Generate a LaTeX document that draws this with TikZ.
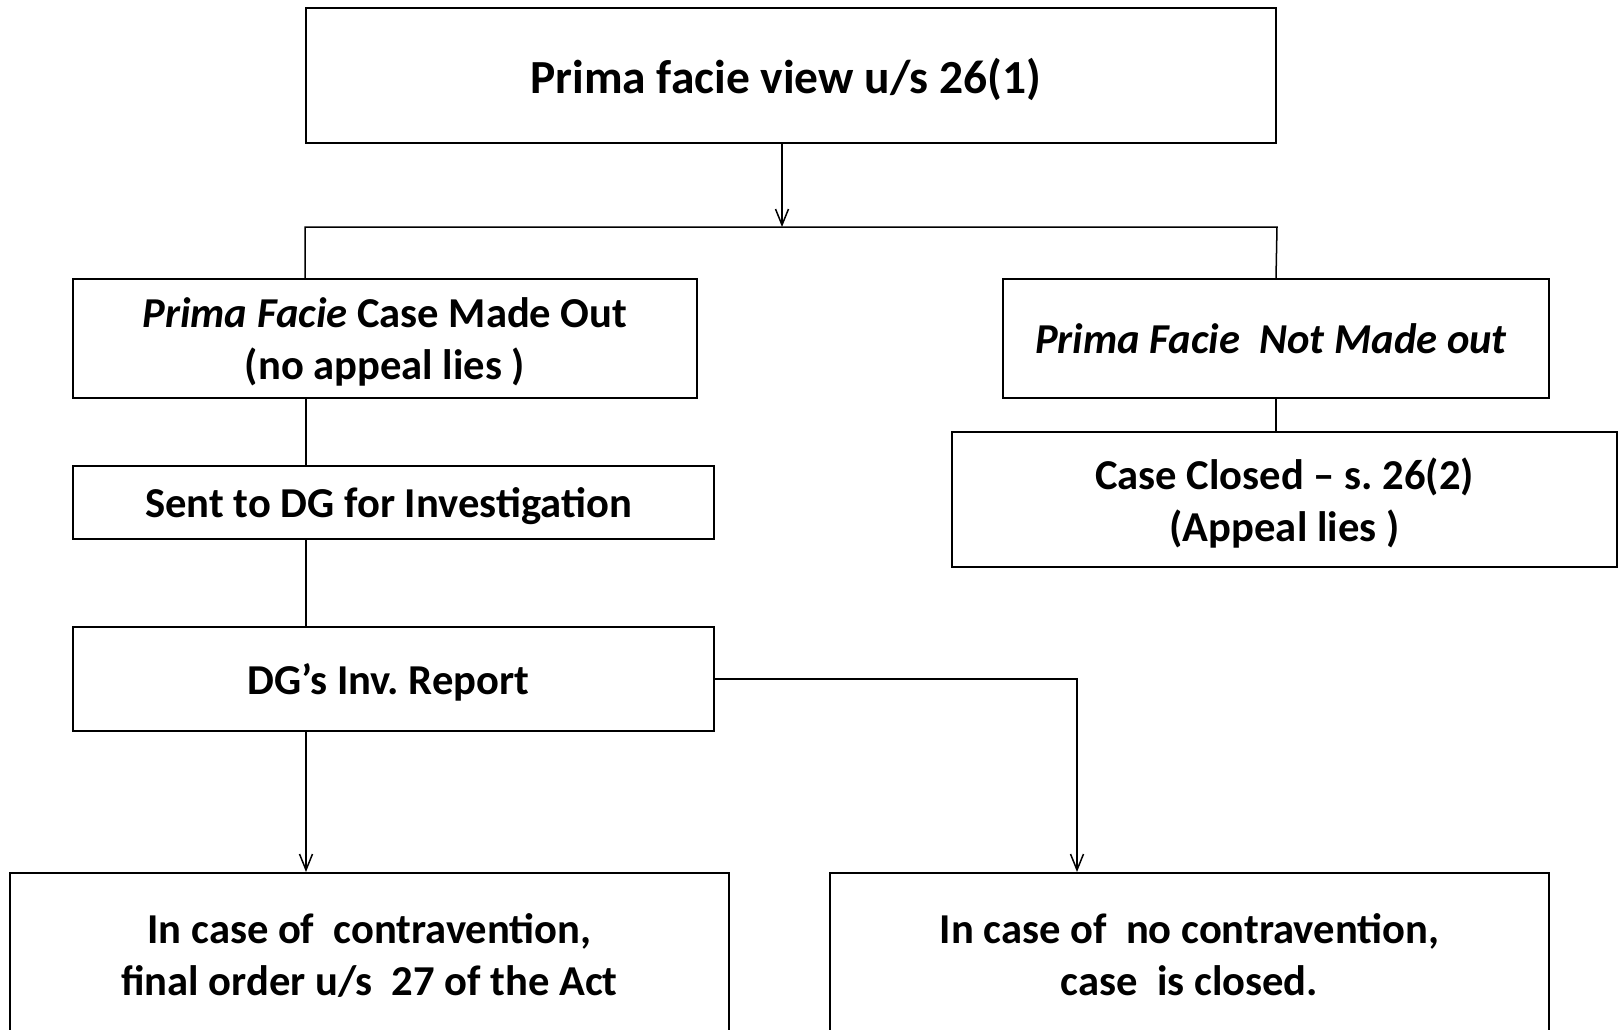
\documentclass[tikz,border=0pt]{standalone}
\usepackage{fontspec}
\setmainfont{Carlito}
\usepackage{tikz}
\usetikzlibrary{arrows.meta}
\frenchspacing
\tikzstyle{flowbox}=[rectangle,draw=black,fill=white,line width=2pt,text depth=0pt,
                     font=\fontsize{42.6}{52}\selectfont\bfseries,align=center,inner sep=0pt]
\tikzstyle{link}=[draw=black,line width=1.5pt]
\tikzstyle{arrow}=[link,-{Straight Barb[length=16pt,width=13pt,line width=1.5pt]}]
\tikzset{boxsize/.style 2 args={minimum width=#1pt,minimum height=#2pt}}

\begin{document}
\begin{tikzpicture}[x=1pt,y=-1pt]
    \useasboundingbox (0,0) rectangle (1620,1030);
    	\node [flowbox,boxsize={970}{135},font=\fontsize{47.5}{57}\selectfont\bfseries] (prima) at (791,75.5) {
    		Prima facie view u/s 26(1)
    	};
    	\node [flowbox,boxsize={624}{119}] (madeout) at (385,338.5) {
    		\textit{Prima Facie} Case Made Out\\(no appeal lies )
    	};
    	\node [flowbox,boxsize={546}{119}] (notmadeout) at (1276,338.5) {
    		\textit{Prima Facie\ \ Not Made out}
    	};
    	\node [flowbox,boxsize={665}{135}] (closed) at (1284.5,499.5) {
    		Case Closed -- s. 26(2)\\(Appeal lies )
    	};
    	\node [flowbox,boxsize={641}{73}] (sentdg) at (393.5,502.5) {
    		Sent to DG for Investigation
    	};
    	\node [flowbox,boxsize={641}{104}] (report) at (393.5,679) {
    		DG’s Inv. Report
    	};
    	\node [flowbox,boxsize={719}{164}] (contra) at (369.5,955) {
    		In case of\ \ contravention,\\final order u/s\ \ 27 of the Act
    	};
    	\node [flowbox,boxsize={719}{164}] (nocontra) at (1189.5,955) {
    		In case of\ \ no contravention,\\case\ \ is closed.
    	};
    \coordinate (split) at (782,227);
    \coordinate (lane) at (306,0);
    \coordinate (drop) at (1077,0);
    \draw [arrow] (prima.south -| split) -- (split);
    \draw [link] (madeout.north -| prima.west) -- (prima.west |- split)
                 -- (prima.east |- split) -- (notmadeout.north);
    \draw [link] (notmadeout.south) -- (notmadeout.south |- closed.north);
    \draw [link] (madeout.south -| lane) -- (sentdg.north -| lane);
    \draw [link] (sentdg.south -| lane) -- (report.north -| lane);
    \draw [arrow] (report.south -| lane) -- (contra.north -| lane);
    \draw [arrow] (report.east) -| (drop |- nocontra.north);
\end{tikzpicture}
\end{document}
